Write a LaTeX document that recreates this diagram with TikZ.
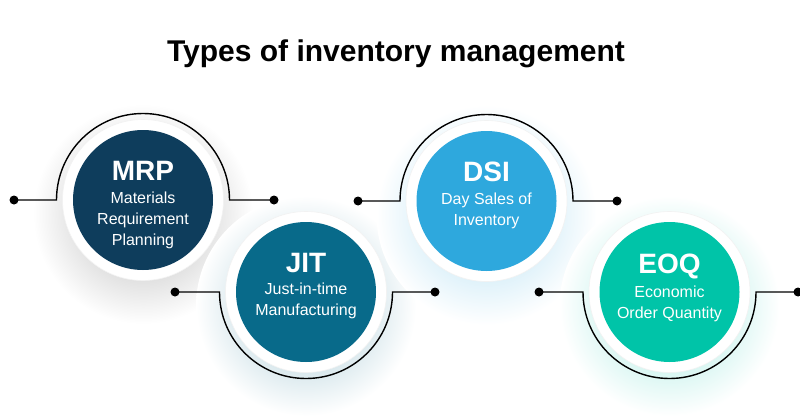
\documentclass[tikz,border=0pt]{standalone}
\usepackage{fontspec}
\setmainfont{Liberation Sans}
\definecolor{mrpc}{HTML}{0E3D5C}
\definecolor{jitc}{HTML}{086A8A}
\definecolor{dsic}{HTML}{2EA8DD}
\definecolor{eoqc}{HTML}{00C4A8}
\pgfdeclareradialshading{shmrp}{\pgfpoint{0bp}{0bp}}{color(0bp)=(black!16); color(13bp)=(black!14); color(25bp)=(white); color(50bp)=(white)}
\pgfdeclareradialshading{shjit}{\pgfpoint{0bp}{0bp}}{color(0bp)=(jitc!22); color(13bp)=(jitc!18); color(25bp)=(white); color(50bp)=(white)}
\pgfdeclareradialshading{shdsi}{\pgfpoint{0bp}{0bp}}{color(0bp)=(dsic!22); color(13bp)=(dsic!18); color(25bp)=(white); color(50bp)=(white)}
\pgfdeclareradialshading{sheoq}{\pgfpoint{0bp}{0bp}}{color(0bp)=(eoqc!22); color(13bp)=(eoqc!18); color(25bp)=(white); color(50bp)=(white)}
\tikzset{
  disc/.style={circle, inner sep=0pt, minimum size=140pt, fill=#1},
  ring/.style={circle, inner sep=0pt, minimum size=161pt, fill=white, draw=black!5, line width=0.6pt},
  conn/.style={draw=black, line width=1.4pt},
  enddot/.style={circle, fill=black, inner sep=0pt, minimum size=9pt},
  head/.style={anchor=base, text=white, font=\bfseries\fontsize{28}{28}\selectfont},
  sub/.style={anchor=base, text=white, font=\fontsize{16}{16}\selectfont},
  heading/.style={anchor=base, text=black, font=\bfseries\fontsize{30}{30}\selectfont}
}
\begin{document}
\begin{tikzpicture}[x=1pt, y=1pt]
\useasboundingbox (0,0) rectangle (800,-420);
\fill[white] (0,0) rectangle (800,-420);

% shadows
\shade[shading=shmrp] (143,-214) circle (110);
\shade[shading=shjit] (306,-306) circle (110);
\shade[shading=shdsi] (486.5,-215) circle (110);
\shade[shading=sheoq] (669.5,-306) circle (110);

% title
\node[heading] (title) at (396,-62) {Types of inventory management};

% connectors
\coordinate (mrpL) at (14,-200);
\coordinate (mrpA) at (56.5,-200);
\coordinate (mrpB) at (229.5,-200);
\coordinate (mrpR) at (274,-200);
\draw[conn] (mrpL) -- (mrpA) arc[start angle=180, end angle=0, radius=86.5] -- (mrpR);

\coordinate (jitL) at (175,-292);
\coordinate (jitA) at (219.5,-292);
\coordinate (jitB) at (392.5,-292);
\coordinate (jitR) at (435,-292);
\draw[conn] (jitL) -- (jitA) arc[start angle=180, end angle=360, radius=86.5] -- (jitR);

\coordinate (dsiL) at (358,-201);
\coordinate (dsiA) at (400,-201);
\coordinate (dsiB) at (573,-201);
\coordinate (dsiR) at (617,-201);
\draw[conn] (dsiL) -- (dsiA) arc[start angle=180, end angle=0, radius=86.5] -- (dsiR);

\coordinate (eoqL) at (539,-292);
\coordinate (eoqA) at (583,-292);
\coordinate (eoqB) at (756,-292);
\coordinate (eoqR) at (798,-292);
\draw[conn] (eoqL) -- (eoqA) arc[start angle=180, end angle=360, radius=86.5] -- (eoqR);

\foreach \p in {mrpL,mrpR,jitL,jitR,dsiL,dsiR,eoqL,eoqR}
  \node[enddot] at (\p) {};

% rings and discs
\node[ring] (mrpring) at (143,-200) {};
\node[disc=mrpc] (mrp) at (143,-200) {};
\node[ring] (jitring) at (306,-292) {};
\node[disc=jitc] (jit) at (306,-292) {};
\node[ring] (dsiring) at (486.5,-201) {};
\node[disc=dsic] (dsi) at (486.5,-201) {};
\node[ring] (eoqring) at (669.5,-292) {};
\node[disc=eoqc] (eoq) at (669.5,-292) {};

% texts
\node[head] (mrpt) at (143,-180) {MRP};
\node[sub] (mrp1) at (143,-203) {Materials};
\node[sub] (mrp2) at (143,-224) {Requirement};
\node[sub] (mrp3) at (143,-245) {Planning};

\node[head] (jitt) at (306,-272) {JIT};
\node[sub] (jit1) at (306,-294) {Just-in-time};
\node[sub] (jit2) at (306,-315) {Manufacturing};

\node[head] (dsit) at (486.5,-181) {DSI};
\node[sub] (dsi1) at (486.5,-204) {Day Sales of};
\node[sub] (dsi2) at (486.5,-225) {Inventory};

\node[head] (eoqt) at (669.5,-273) {EOQ};
\node[sub] (eoq1) at (669.5,-297) {Economic};
\node[sub] (eoq2) at (669.5,-318) {Order Quantity};
\end{tikzpicture}
\end{document}
